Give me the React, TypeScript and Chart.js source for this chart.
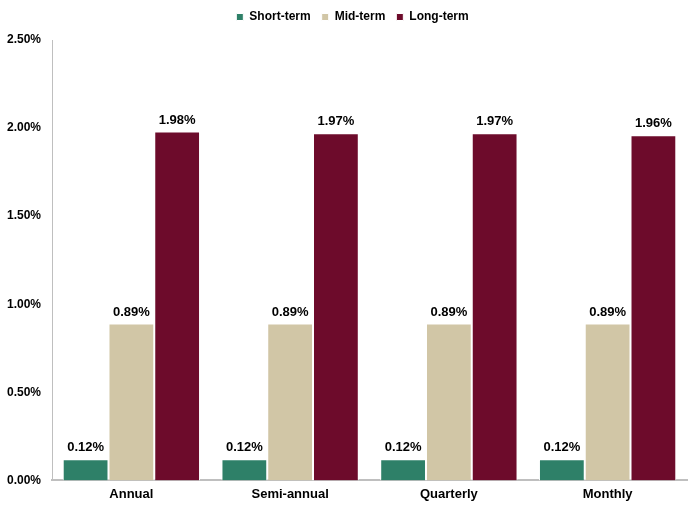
import React, { useEffect, useRef } from "react";
import { Chart, registerables } from "chart.js";
Chart.register(...registerables);

const categories = ["Annual", "Semi-annual", "Quarterly", "Monthly"];
const shortTerm = [0.12, 0.12, 0.12, 0.12];
const midTerm = [0.89, 0.89, 0.89, 0.89];
const longTerm = [1.98, 1.97, 1.97, 1.96];
const seriesNames = ["Short-term", "Mid-term", "Long-term"];
const colors = ["#2E8068", "#D1C6A6", "#6D0B2B"];
const FONT = "'Liberation Sans', Arial, sans-serif";

const labelPlugin = {
  id: "barLabels",
  beforeUpdate(chart: any) {
    const lg = chart.legend;
    if (lg && !lg.__patched) {
      const orig = lg.fit;
      lg.fit = function () {
        orig.call(this);
        this.height += 7;
      };
      const od = lg.draw;
      lg.draw = function (...args: any[]) {
        const c = this.ctx;
        c.save();
        c.translate(9, 0);
        od.apply(this, args);
        c.restore();
      };
      lg.__patched = true;
    }
  },
  afterDatasetsDraw(chart: any) {
    const ctx = chart.ctx;
    ctx.save();
    ctx.font = "bold 13px " + FONT;
    ctx.fillStyle = "#000";
    ctx.textAlign = "center";
    ctx.textBaseline = "bottom";
    chart.data.datasets.forEach((ds: any, i: number) => {
      const meta = chart.getDatasetMeta(i);
      meta.data.forEach((el: any, j: number) => {
        ctx.fillText(ds.data[j].toFixed(2) + "%", el.x, el.y - 5);
      });
    });
    ctx.restore();
  },
};

export default function App() {
  const ref = useRef<HTMLCanvasElement>(null);
  useEffect(() => {
    document.body.style.margin = "0";
    const data = [shortTerm, midTerm, longTerm];
    const chart = new Chart(ref.current!, {
      type: "bar",
      data: {
        labels: categories,
        datasets: seriesNames.map((n, i) => ({
          label: n,
          data: data[i],
          backgroundColor: colors[i],
          borderColor: "#ffffff",
          borderWidth: 1,
          categoryPercentage: 0.865,
          barPercentage: 1.0,
        })),
      },
      options: {
        animation: false,
        responsive: false,
        maintainAspectRatio: false,
        layout: { padding: { top: 0, right: 13, left: 0, bottom: 0 } },
        plugins: {
          legend: {
            position: "top",
            labels: {
              boxWidth: 7,
              boxHeight: 7,
              padding: 11,
              color: "#000",
              font: { family: FONT, size: 12, weight: "bold" },
            },
          },
          tooltip: { enabled: false },
        },
        scales: {
          x: {
            grid: { display: false, drawTicks: false },
            border: { color: "#BFBFBF", width: 2 },
            ticks: {
              color: "#000",
              padding: 6,
              font: { family: FONT, size: 13, weight: "bold" },
            },
          },
          y: {
            min: 0,
            max: 2.5,
            grid: { display: false, drawTicks: false },
            border: { color: "#BFBFBF", width: 1 },
            afterFit: (scale: any) => {
              scale.width = 52;
            },
            ticks: {
              stepSize: 0.5,
              color: "#000",
              padding: 11,
              callback: (v: any) => Number(v).toFixed(2) + "%",
              font: { family: FONT, size: 12, weight: "bold" },
            },
          },
        },
      },
      plugins: [labelPlugin],
    });
    return () => chart.destroy();
  }, []);
  return (
    <div style={{ width: 700, height: 508 }}>
      <canvas ref={ref} width={700} height={508} />
    </div>
  );
}
